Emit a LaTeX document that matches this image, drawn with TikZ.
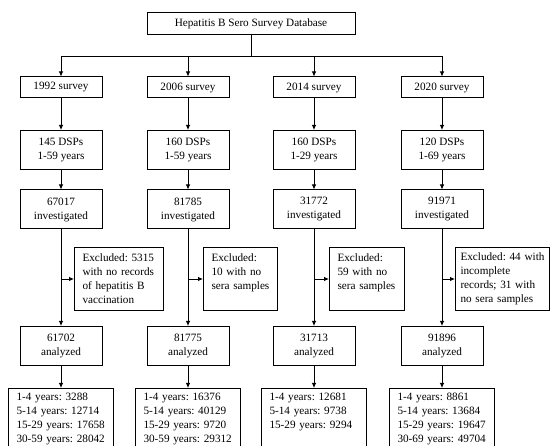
\documentclass[tikz,border=0pt]{standalone}
\usepackage{fontspec}
\setmainfont{Liberation Serif}
\frenchspacing
\usetikzlibrary{arrows.meta,positioning}
\tikzset{
  box/.style={draw,line width=1pt,align=center,inner sep=3pt},
  survbox/.style={box,minimum width=82pt,minimum height=21pt},
  twobox/.style={box,minimum width=82pt,minimum height=39pt},
  exbox/.style={box,anchor=north west,align=left,inner xsep=8pt,inner ysep=4pt,minimum height=63pt},
  agebox/.style={box,anchor=north,align=left,text width=89pt,inner xsep=8pt,inner ysep=5pt},
  arr/.style={-{Latex[length=5pt,width=4.5pt]},line width=0.8pt}
}

\begin{document}
\begin{tikzpicture}[x=1pt,y=-1pt,font=\fontsize{11.2}{14}\selectfont\frenchspacing]
\useasboundingbox (0,0) rectangle (550,446);
\node[box,minimum width=208pt,minimum height=22pt] (db) at (251,24) {Hepatitis B Sero Survey Database};
% surveys
\node[survbox] (s1) at (61,87.5) {1992 survey};
\node[survbox] (s2) at (188,87.5) {2006 survey};
\node[survbox] (s3) at (314,87.5) {2014 survey};
\node[survbox] (s4) at (442,87.5) {2020 survey};
\draw[arr] (db.south) -- ++(0,21) -| (s1.north);
\draw[arr] (db.south) -- ++(0,21) -| (s2.north);
\draw[arr] (db.south) -- ++(0,21) -| (s3.north);
\draw[arr] (db.south) -- ++(0,21) -| (s4.north);
% sites and ages
\node[twobox] (d1) at (61,150) {145 DSPs\\1-59 years};
\node[twobox] (d2) at (188,150) {160 DSPs\\1-59 years};
\node[twobox] (d3) at (314,150) {160 DSPs\\1-29 years};
\node[twobox] (d4) at (442,150) {120 DSPs\\1-69 years};
% investigated
\node[twobox] (n1) at (61,209.5) {67017\\investigated};
\node[twobox] (n2) at (188,209.5) {81785\\investigated};
\node[twobox] (n3) at (314,209.5) {31772\\investigated};
\node[twobox] (n4) at (442,209.5) {91971\\investigated};
% excluded
\node[exbox,text width=73pt] (e1) at (74,247) {Excluded: 5315\\with no records\\of hepatitis B\\vaccination};
\node[exbox,text width=58pt] (e2) at (203,247) {Excluded:\\10 with no\\sera samples\\ \mbox{}};
\node[exbox,text width=59pt] (e3) at (329,247) {Excluded:\\59 with no\\sera samples\\ \mbox{}};
\node[exbox,text width=84pt,inner xsep=5pt] (e4) at (455,247) {Excluded: 44 with\\incomplete\\records; 31 with\\no sera samples};
% analyzed
\node[twobox] (a1) at (61,346) {61702\\analyzed};
\node[twobox] (a2) at (188,346) {81775\\analyzed};
\node[twobox] (a3) at (314,346) {31713\\analyzed};
\node[twobox] (a4) at (442,346) {91896\\analyzed};
% age groups
\node[agebox] (g1) at (61,388) {1-4 years: 3288\\5-14 years: 12714\\15-29 years: 17658\\30-59 years: 28042};
\node[agebox] (g2) at (188,388) {1-4 years: 16376\\5-14 years: 40129\\15-29 years: 9720\\30-59 years: 29312};
\node[agebox] (g3) at (314,388) {1-4 years: 12681\\5-14 years: 9738\\15-29 years: 9294\\ \mbox{}};
\node[agebox] (g4) at (442,388) {1-4 years: 8861\\5-14 years: 13684\\15-29 years: 19647\\30-69 years: 49704};
\draw[arr] (s1) -- (d1);
\draw[arr] (s2) -- (d2);
\draw[arr] (s3) -- (d3);
\draw[arr] (s4) -- (d4);
\draw[arr] (d1) -- (n1);
\draw[arr] (d2) -- (n2);
\draw[arr] (d3) -- (n3);
\draw[arr] (d4) -- (n4);
\draw[arr] (n1) -- (a1);
\draw[arr] (n2) -- (a2);
\draw[arr] (n3) -- (a3);
\draw[arr] (n4) -- (a4);
\draw[arr] (n1.south |- e1.west) -- (e1.west);
\draw[arr] (n2.south |- e2.west) -- (e2.west);
\draw[arr] (n3.south |- e3.west) -- (e3.west);
\draw[arr] (n4.south |- e4.west) -- (e4.west);
\draw[arr] (a1) -- (g1);
\draw[arr] (a2) -- (g2);
\draw[arr] (a3) -- (g3);
\draw[arr] (a4) -- (g4);
\end{tikzpicture}
\end{document}
